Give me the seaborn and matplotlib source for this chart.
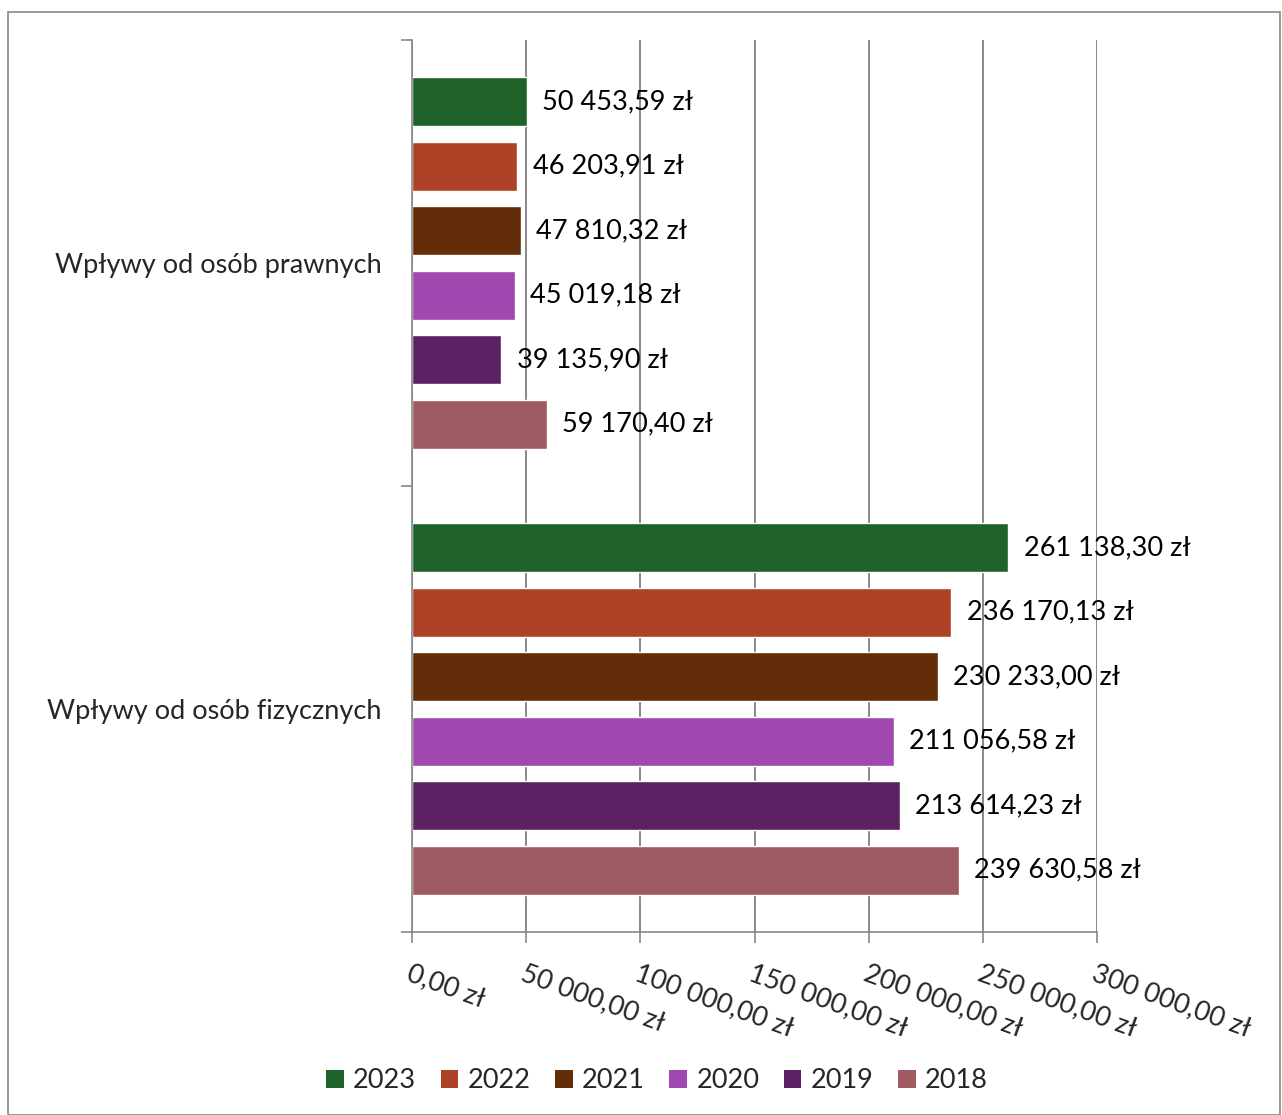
import matplotlib
matplotlib.use("Agg")
import matplotlib.pyplot as plt
import seaborn as sns
import pandas as pd
from matplotlib.patches import Patch, Rectangle
from matplotlib.ticker import FixedLocator, FuncFormatter

categories = ["Wpływy od osób prawnych", "Wpływy od osób fizycznych"]
years = ["2023", "2022", "2021", "2020", "2019", "2018"]
prawne = [50453.59, 46203.91, 47810.32, 45019.18, 39135.90, 59170.40]
fizyczne = [261138.30, 236170.13, 230233.00, 211056.58, 213614.23, 239630.58]
colors = ["#1E6229", "#AE4226", "#622D08", "#A048B0", "#5B2162", "#A05A62"]
xticks = [0, 50000, 100000, 150000, 200000, 250000, 300000]

rows = []
for y, v in zip(years, prawne):
    rows.append({"cat": categories[0], "year": y, "val": v})
for y, v in zip(years, fizyczne):
    rows.append({"cat": categories[1], "year": y, "val": v})
df = pd.DataFrame(rows)

def pln(v):
    s = f"{v:,.2f}".replace(",", " ").replace(".", ",")
    return s + " zł"

FS = 19.5

sns.set_theme(style="white")
plt.rcParams["font.family"] = ["Lato", "DejaVu Sans"]

fig = plt.figure(figsize=(12.82, 11.15), dpi=100)
ax = fig.add_axes([412/1282, 1-932/1115, (1097-412)/1282, (932-40)/1115])

sns.barplot(data=df, y="cat", x="val", hue="year", hue_order=years,
            palette=colors, saturation=1, orient="h", width=0.868, gap=0.24,
            edgecolor="white", linewidth=1, ax=ax, legend=False)

for cont in ax.containers:
    ax.bar_label(cont, labels=[pln(b.get_width()) for b in cont],
                 padding=11, fontsize=FS, color="black")

ax.set_xlim(0, 300000)
ax.set_ylim(1.5, -0.5)
ax.set_xticks(xticks)
ax.xaxis.set_major_formatter(FuncFormatter(lambda v, p: pln(v)))
for lab in ax.get_xticklabels():
    lab.set_rotation(-20)
    lab.set_ha("left")
    lab.set_va("top")
    lab.set_rotation_mode("anchor")
    lab.set_fontsize(FS)
ax.tick_params(axis="x", which="major", direction="out", length=8, width=1.2,
               color="#888888", pad=13, bottom=True)
ax.grid(axis="x", color="#888888", linewidth=1.4)
ax.set_axisbelow(True)

ax.yaxis.set_minor_locator(FixedLocator([-0.5, 0.5, 1.5]))
ax.tick_params(axis="y", which="minor", direction="out", length=8, width=1.2,
               color="#888888", left=True)
ax.tick_params(axis="y", which="major", length=0, pad=22, labelsize=FS)
ax.set_xlabel("")
ax.set_ylabel("")

for s in ["top", "right"]:
    ax.spines[s].set_visible(False)
for s in ["left", "bottom"]:
    ax.spines[s].set_color("#888888")
    ax.spines[s].set_linewidth(1.2)

handles = [Patch(facecolor=c, edgecolor="none") for c in colors]
fig.legend(handles, years, loc="center", bbox_to_anchor=(657/1282, 1-1081/1115),
           ncol=6, frameon=False, fontsize=FS, handlelength=0.65, handleheight=0.65,
           handletextpad=0.35, columnspacing=0.9)

fig.patches.append(Rectangle((8/1282, 0), (1280-8)/1282, 1-12/1115,
                             transform=fig.transFigure, fill=False,
                             edgecolor="#888888", linewidth=1.2))

fig.savefig("out.png", dpi=100, facecolor="white")
